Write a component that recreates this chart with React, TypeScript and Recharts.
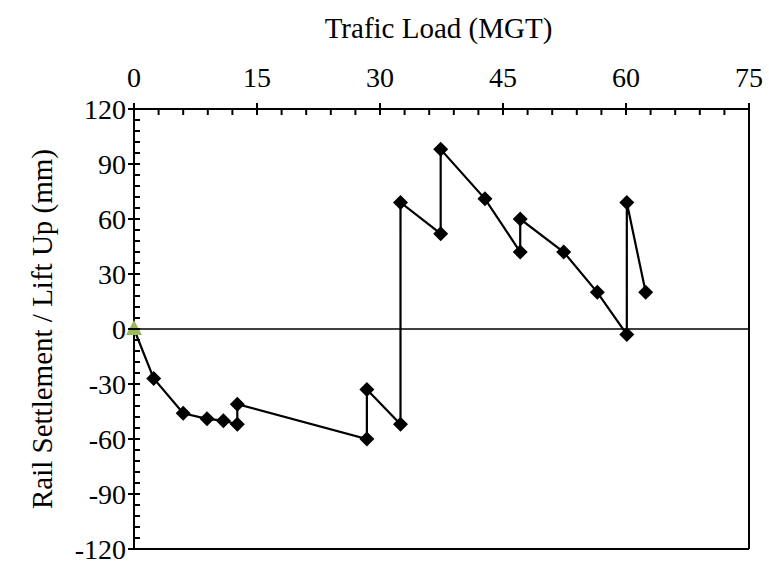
import { ComposedChart, Line, XAxis, YAxis, ReferenceLine, Label } from "recharts";

const loadMGT = [0, 2.4, 6.0, 8.9, 10.9, 12.6, 12.6, 28.4, 28.4, 32.5, 32.5, 37.4, 37.4, 42.8, 47.1, 47.1, 52.4, 56.5, 60.1, 60.1, 62.4];
const settlementMm = [0, -27, -46, -49, -50, -52, -41, -60, -33, -52, 69, 52, 98, 71, 42, 60, 42, 20, -3, 69, 20];

const xMajorTicks = [0, 15, 30, 45, 60, 75];
const yMajorTicks = [-120, -90, -60, -30, 0, 30, 60, 90, 120];
const xMinorStep = 3;
const yMinorStep = 6;

const FONT = "'Liberation Serif', 'Times New Roman', serif";
const TICK_FONT = 28;
const TITLE_FONT = 29;
const X_TICK_MARGIN = 22;
const Y_TICK_MARGIN = 8;

const data = loadMGT.map((x, i) => ({ x, y: settlementMm[i] }));

// majors plus the minor ticks between them
function allTicks(majors: number[], step: number) {
  const out: number[] = [];
  for (let v = majors[0]; v <= majors[majors.length - 1] + 1e-9; v += step) out.push(Math.round(v * 100) / 100);
  return out;
}

const XTick = (props: any) => {
  const { x, y, payload } = props;
  const axisY = y + X_TICK_MARGIN;
  const major = xMajorTicks.includes(payload.value);
  return (
    <g>
      <line x1={x} x2={x} y1={major ? axisY - 6 : axisY} y2={axisY + 6} stroke="#000" strokeWidth={2} />
      {major && (
        <text x={x} y={y} textAnchor="middle" fontFamily={FONT} fontSize={TICK_FONT} fill="#000">
          {payload.value}
        </text>
      )}
    </g>
  );
};

const YTick = (props: any) => {
  const { x, y, payload } = props;
  const axisX = x + Y_TICK_MARGIN;
  const major = yMajorTicks.includes(payload.value);
  return (
    <g>
      <line x1={major ? axisX - 6 : axisX} x2={axisX + 6} y1={y} y2={y} stroke="#000" strokeWidth={2} />
      {major && (
        <text x={x} y={y} dy="0.35em" textAnchor="end" fontFamily={FONT} fontSize={TICK_FONT} fill="#000">
          {payload.value}
        </text>
      )}
    </g>
  );
};

const renderDot = (props: any) => {
  const { cx, cy, index } = props;
  if (index === 0) {
    return (
      <polygon
        key={`dot-${index}`}
        points={`${cx},${cy - 9} ${cx + 8},${cy + 6} ${cx - 8},${cy + 6}`}
        fill="#9BBB59"
      />
    );
  }
  const r = 7.5;
  return (
    <polygon
      key={`dot-${index}`}
      points={`${cx},${cy - r} ${cx + r},${cy} ${cx},${cy + r} ${cx - r},${cy}`}
      fill="#000"
    />
  );
};

const XTitle = (props: any) => {
  const { x, width } = props.viewBox;
  return (
    <text x={x + width / 2 - 3} y={38} textAnchor="middle" fontFamily={FONT} fontSize={TITLE_FONT} fill="#000">
      Trafic Load (MGT)
    </text>
  );
};

const YTitle = (props: any) => {
  const { y, height } = props.viewBox;
  const cx = 42;
  const cy = y + height / 2;
  return (
    <text
      x={cx}
      y={cy}
      dy="0.35em"
      textAnchor="middle"
      transform={`rotate(-90, ${cx}, ${cy})`}
      fontFamily={FONT}
      fontSize={TITLE_FONT}
      fill="#000"
    >
      Rail Settlement / Lift Up (mm)
    </text>
  );
};

export default function App() {
  return (
    <div style={{ position: "absolute", left: 0, top: 0, width: 769, height: 565, background: "#fff" }}>
      <ComposedChart width={769} height={565} data={data} margin={{ top: 0, right: 20, bottom: 16, left: 0 }}>
        <XAxis
          dataKey="x"
          type="number"
          orientation="top"
          domain={[0, 75]}
          ticks={allTicks(xMajorTicks, xMinorStep)}
          interval={0}
          height={109}
          tickSize={0}
          tickMargin={X_TICK_MARGIN}
          tickLine={false}
          tick={<XTick />}
          axisLine={{ stroke: "#000", strokeWidth: 2 }}
        >
          <Label content={<XTitle />} />
        </XAxis>
        <YAxis
          dataKey="y"
          type="number"
          domain={[-120, 120]}
          ticks={allTicks(yMajorTicks, yMinorStep)}
          interval={0}
          width={134}
          tickSize={0}
          tickMargin={Y_TICK_MARGIN}
          tickLine={false}
          tick={<YTick />}
          axisLine={{ stroke: "#000", strokeWidth: 2 }}
        >
          <Label content={<YTitle />} />
        </YAxis>
        <ReferenceLine x={75} stroke="#000" strokeWidth={2} />
        <ReferenceLine y={-120} stroke="#000" strokeWidth={2} />
        <ReferenceLine y={0} stroke="#000" strokeWidth={1.5} />
        <Line
          dataKey="y"
          stroke="#000"
          strokeWidth={2.2}
          dot={renderDot}
          activeDot={false}
          isAnimationActive={false}
        />
      </ComposedChart>
    </div>
  );
}
